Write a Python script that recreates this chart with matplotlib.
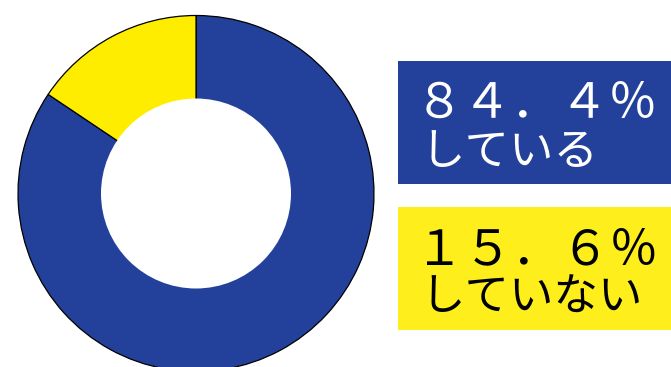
import matplotlib
matplotlib.use('Agg')
from matplotlib import pyplot as plt
from matplotlib.patches import Rectangle, Circle

plt.rcParams['font.family'] = ['Noto Sans CJK JP', 'DejaVu Sans']

labels = ['している', 'していない']
values = [84.4, 15.6]
pct_labels = ['８４．４％', '１５．６％']
colors = ['#23419a', '#ffed00']
box_colors = ['#23419a', '#fdee1c']
text_colors = ['white', 'black']

W, H = 671, 367
fig = plt.figure(figsize=(W / 100, H / 100), dpi=100)
ax = fig.add_axes([0, 0, 1, 1])

cx, cy, r_out, r_in = 196, 173.5, 178, 95
ax.pie(values, colors=colors, startangle=90, counterclock=False,
       center=(cx, cy), radius=r_out, frame=True,
       wedgeprops=dict(edgecolor='black', linewidth=0.9))
ax.add_patch(Circle((cx, cy), r_in, facecolor='white', edgecolor='none', zorder=5))
ax.set_xlim(0, W)
ax.set_ylim(0, H)
ax.set_aspect('equal')
ax.axis('off')

# legend boxes on the right
box_tops = [306, 160]
for i in range(2):
    top = box_tops[i]
    ax.add_patch(Rectangle((398, top - 123), W - 398, 123,
                           facecolor=box_colors[i], edgecolor='none'))
    ax.text(415, top - 57, pct_labels[i], color=text_colors[i], fontsize=35,
            ha='left', va='baseline')
    ax.text(420, top - 104, labels[i], color=text_colors[i], fontsize=32,
            ha='left', va='baseline')

fig.savefig('out.png', dpi=100)
